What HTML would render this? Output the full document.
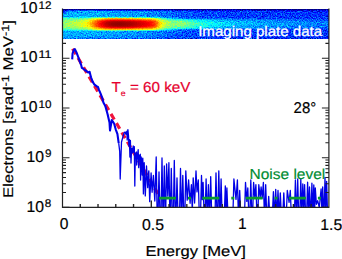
<!DOCTYPE html>
<html><head><meta charset="utf-8"><style>
html,body{margin:0;padding:0;background:#fff;overflow:hidden;}
svg{display:block;}
text{font-family:"Liberation Sans",sans-serif;text-rendering:geometricPrecision;}
</style></head><body>
<svg width="342" height="259" viewBox="0 0 342 259">
<defs>
<linearGradient id="bgG" gradientUnits="userSpaceOnUse" x1="62.5" y1="0" x2="328.9" y2="0"><stop offset="0.0000" stop-color="#4c4c4c" stop-opacity="1.000"/><stop offset="0.1408" stop-color="#4a4a4a" stop-opacity="1.000"/><stop offset="0.2909" stop-color="#444444" stop-opacity="1.000"/><stop offset="0.4411" stop-color="#363636" stop-opacity="1.000"/><stop offset="0.5912" stop-color="#2f2f2f" stop-opacity="1.000"/><stop offset="0.7414" stop-color="#2d2d2d" stop-opacity="1.000"/><stop offset="1.0004" stop-color="#2a2a2a" stop-opacity="1.000"/></linearGradient>
<linearGradient id="bandG" gradientUnits="userSpaceOnUse" x1="62.5" y1="0" x2="328.9" y2="0"><stop offset="0.0000" stop-color="#858585" stop-opacity="1.000"/><stop offset="0.0282" stop-color="#8a8a8a" stop-opacity="1.000"/><stop offset="0.0657" stop-color="#949494" stop-opacity="1.000"/><stop offset="0.0882" stop-color="#9e9e9e" stop-opacity="1.000"/><stop offset="0.1032" stop-color="#adadad" stop-opacity="1.000"/><stop offset="0.1220" stop-color="#c7c7c7" stop-opacity="1.000"/><stop offset="0.1408" stop-color="#dedede" stop-opacity="1.000"/><stop offset="0.1633" stop-color="#f0f0f0" stop-opacity="1.000"/><stop offset="0.1858" stop-color="#fafafa" stop-opacity="1.000"/><stop offset="0.2158" stop-color="#fcfcfc" stop-opacity="1.000"/><stop offset="0.2534" stop-color="#f7f7f7" stop-opacity="1.000"/><stop offset="0.2909" stop-color="#ededed" stop-opacity="1.000"/><stop offset="0.3285" stop-color="#e0e0e0" stop-opacity="1.000"/><stop offset="0.3472" stop-color="#d2d2d2" stop-opacity="1.000"/><stop offset="0.3547" stop-color="#cccccc" stop-opacity="0.926"/><stop offset="0.3773" stop-color="#b2b2b2" stop-opacity="0.704"/><stop offset="0.4035" stop-color="#9e9e9e" stop-opacity="0.444"/><stop offset="0.4411" stop-color="#8a8a8a" stop-opacity="0.074"/><stop offset="0.4486" stop-color="#868686" stop-opacity="0.000"/><stop offset="0.4786" stop-color="#787878" stop-opacity="0.000"/><stop offset="0.5161" stop-color="#6b6b6b" stop-opacity="0.000"/><stop offset="0.5724" stop-color="#5c5c5c" stop-opacity="0.000"/><stop offset="0.6475" stop-color="#505050" stop-opacity="0.000"/><stop offset="0.7414" stop-color="#4a4a4a" stop-opacity="0.000"/><stop offset="0.8915" stop-color="#424242" stop-opacity="0.000"/><stop offset="1.0004" stop-color="#3d3d3d" stop-opacity="0.000"/></linearGradient>
<linearGradient id="bandH" gradientUnits="userSpaceOnUse" x1="62.5" y1="0" x2="328.9" y2="0"><stop offset="0.0000" stop-color="#858585" stop-opacity="0.000"/><stop offset="0.0282" stop-color="#8a8a8a" stop-opacity="0.000"/><stop offset="0.0657" stop-color="#949494" stop-opacity="0.000"/><stop offset="0.0882" stop-color="#9e9e9e" stop-opacity="0.000"/><stop offset="0.1032" stop-color="#adadad" stop-opacity="0.000"/><stop offset="0.1220" stop-color="#c7c7c7" stop-opacity="0.000"/><stop offset="0.1408" stop-color="#dedede" stop-opacity="0.000"/><stop offset="0.1633" stop-color="#f0f0f0" stop-opacity="0.000"/><stop offset="0.1858" stop-color="#fafafa" stop-opacity="0.000"/><stop offset="0.2158" stop-color="#fcfcfc" stop-opacity="0.000"/><stop offset="0.2534" stop-color="#f7f7f7" stop-opacity="0.000"/><stop offset="0.2909" stop-color="#ededed" stop-opacity="0.000"/><stop offset="0.3285" stop-color="#e0e0e0" stop-opacity="0.000"/><stop offset="0.3472" stop-color="#d2d2d2" stop-opacity="0.000"/><stop offset="0.3547" stop-color="#cccccc" stop-opacity="0.074"/><stop offset="0.3773" stop-color="#b2b2b2" stop-opacity="0.296"/><stop offset="0.4035" stop-color="#9e9e9e" stop-opacity="0.556"/><stop offset="0.4411" stop-color="#8a8a8a" stop-opacity="0.926"/><stop offset="0.4486" stop-color="#868686" stop-opacity="1.000"/><stop offset="0.4786" stop-color="#787878" stop-opacity="1.000"/><stop offset="0.5161" stop-color="#6b6b6b" stop-opacity="1.000"/><stop offset="0.5724" stop-color="#5c5c5c" stop-opacity="1.000"/><stop offset="0.6475" stop-color="#505050" stop-opacity="1.000"/><stop offset="0.7414" stop-color="#4a4a4a" stop-opacity="1.000"/><stop offset="0.8915" stop-color="#424242" stop-opacity="1.000"/><stop offset="1.0004" stop-color="#3d3d3d" stop-opacity="1.000"/></linearGradient>
<linearGradient id="vP" gradientUnits="userSpaceOnUse" x1="0" y1="9.0" x2="0" y2="38.6"><stop offset="0.0000" stop-color="#fff" stop-opacity="0"/><stop offset="0.2500" stop-color="#fff" stop-opacity="0"/><stop offset="0.2703" stop-color="#fff" stop-opacity="0.08"/><stop offset="0.2872" stop-color="#fff" stop-opacity="0.26"/><stop offset="0.3041" stop-color="#fff" stop-opacity="0.48"/><stop offset="0.3277" stop-color="#fff" stop-opacity="0.63"/><stop offset="0.3480" stop-color="#fff" stop-opacity="0.71"/><stop offset="0.3682" stop-color="#fff" stop-opacity="0.79"/><stop offset="0.3953" stop-color="#fff" stop-opacity="0.89"/><stop offset="0.4257" stop-color="#fff" stop-opacity="0.96"/><stop offset="0.4662" stop-color="#fff" stop-opacity="0.99"/><stop offset="0.5068" stop-color="#fff" stop-opacity="1"/><stop offset="0.5473" stop-color="#fff" stop-opacity="0.99"/><stop offset="0.5878" stop-color="#fff" stop-opacity="0.96"/><stop offset="0.6182" stop-color="#fff" stop-opacity="0.89"/><stop offset="0.6453" stop-color="#fff" stop-opacity="0.79"/><stop offset="0.6655" stop-color="#fff" stop-opacity="0.71"/><stop offset="0.6858" stop-color="#fff" stop-opacity="0.63"/><stop offset="0.7095" stop-color="#fff" stop-opacity="0.48"/><stop offset="0.7264" stop-color="#fff" stop-opacity="0.26"/><stop offset="0.7432" stop-color="#fff" stop-opacity="0.08"/><stop offset="0.7635" stop-color="#fff" stop-opacity="0"/><stop offset="1.0000" stop-color="#fff" stop-opacity="0"/></linearGradient>
<linearGradient id="vQ" gradientUnits="userSpaceOnUse" x1="0" y1="9.0" x2="0" y2="38.6"><stop offset="0.0000" stop-color="#fff" stop-opacity="0"/><stop offset="0.3014" stop-color="#fff" stop-opacity="0"/><stop offset="0.3176" stop-color="#fff" stop-opacity="0.08"/><stop offset="0.3311" stop-color="#fff" stop-opacity="0.26"/><stop offset="0.3446" stop-color="#fff" stop-opacity="0.48"/><stop offset="0.3635" stop-color="#fff" stop-opacity="0.63"/><stop offset="0.3797" stop-color="#fff" stop-opacity="0.71"/><stop offset="0.3959" stop-color="#fff" stop-opacity="0.79"/><stop offset="0.4176" stop-color="#fff" stop-opacity="0.89"/><stop offset="0.4419" stop-color="#fff" stop-opacity="0.96"/><stop offset="0.4743" stop-color="#fff" stop-opacity="0.99"/><stop offset="0.5068" stop-color="#fff" stop-opacity="1"/><stop offset="0.5392" stop-color="#fff" stop-opacity="0.99"/><stop offset="0.5716" stop-color="#fff" stop-opacity="0.96"/><stop offset="0.5959" stop-color="#fff" stop-opacity="0.89"/><stop offset="0.6176" stop-color="#fff" stop-opacity="0.79"/><stop offset="0.6338" stop-color="#fff" stop-opacity="0.71"/><stop offset="0.6500" stop-color="#fff" stop-opacity="0.63"/><stop offset="0.6689" stop-color="#fff" stop-opacity="0.48"/><stop offset="0.6824" stop-color="#fff" stop-opacity="0.26"/><stop offset="0.6959" stop-color="#fff" stop-opacity="0.08"/><stop offset="0.7122" stop-color="#fff" stop-opacity="0"/><stop offset="1.0000" stop-color="#fff" stop-opacity="0"/></linearGradient>
<linearGradient id="vG" gradientUnits="userSpaceOnUse" x1="0" y1="9.0" x2="0" y2="38.6"><stop offset="0" stop-color="#000" stop-opacity="0.35"/><stop offset=".05" stop-color="#000" stop-opacity=".12"/><stop offset=".09" stop-color="#000" stop-opacity="0"/><stop offset=".85" stop-color="#000" stop-opacity="0"/><stop offset="1" stop-color="#000" stop-opacity=".1"/></linearGradient>
<radialGradient id="cG" gradientUnits="userSpaceOnUse" cx="62.5" cy="9.0" r="6"><stop offset="0" stop-color="#000" stop-opacity=".9"/><stop offset=".5" stop-color="#000" stop-opacity=".5"/><stop offset="1" stop-color="#000" stop-opacity="0"/></radialGradient>
<mask id="bm" maskUnits="userSpaceOnUse" x="62.5" y="9.0" width="266.4" height="29.6" style="mask-type:alpha"><rect x="62.5" y="9.0" width="266.4" height="29.6" fill="url(#vP)"/></mask>
<mask id="bn" maskUnits="userSpaceOnUse" x="62.5" y="9.0" width="266.4" height="29.6" style="mask-type:alpha"><rect x="62.5" y="9.0" width="266.4" height="29.6" fill="url(#vQ)"/></mask>
<filter id="jet" filterUnits="userSpaceOnUse" x="62.5" y="9.0" width="266.4" height="29.6" color-interpolation-filters="sRGB">
<feTurbulence type="fractalNoise" baseFrequency="0.8" numOctaves="2" seed="7" result="n"/>
<feColorMatrix in="n" type="matrix" values="1 0 0 0 0 1 0 0 0 0 1 0 0 0 0 0 0 0 0 1" result="ng"/>
<feComposite in="SourceGraphic" in2="ng" operator="arithmetic" k1="-0.5" k2="1.25" k3="0.5" k4="-0.25" result="s"/>
<feComponentTransfer in="s">
<feFuncR type="table" tableValues="0 0 0 0 .5 1 1 1 .5"/>
<feFuncG type="table" tableValues="0 0 .5 1 1 1 .5 0 0"/>
<feFuncB type="table" tableValues=".5 1 1 1 .5 0 0 0 0"/>
<feFuncA type="linear" slope="0" intercept="1"/>
</feComponentTransfer>
</filter>
</defs>
<g filter="url(#jet)">
<rect x="62.5" y="9.0" width="266.4" height="29.6" fill="url(#bgG)"/>
<rect x="62.5" y="9.0" width="266.4" height="29.6" fill="url(#vG)"/>
<rect x="62.5" y="9.0" width="266.4" height="29.6" fill="url(#bandG)" mask="url(#bm)"/>
<rect x="62.5" y="9.0" width="266.4" height="29.6" fill="url(#bandH)" mask="url(#bn)"/>
<rect x="62.5" y="9.0" width="266.4" height="1.3" fill="#000"/>
<rect x="62.5" y="9.0" width="8" height="8" fill="url(#cG)"/>
</g>
<clipPath id="pc"><rect x="62.5" y="38.6" width="266.4" height="168.8"/></clipPath>
<g clip-path="url(#pc)"><path d="M72.6,48.7 L158.5,194.7" stroke="#f0143c" stroke-width="3.2" stroke-dasharray="6.5 4.3" fill="none"/>
<path d="M72.2,59.4 L72.6,53.3 L73.9,49.9 L74.9,49.1 L76.5,52.5 L78,56.3 L79.6,61 L81.1,64.8 L81.9,67.9 L83.4,68.7 L85,70.2 L86.5,71 L88.1,72.5 L89.6,71.8 L90.4,74.9 L91.1,77.5 L92.6,81.6 L94.5,84.7 L96.5,86.2 L98,87 L99.1,90.1 L100.7,93.9 L102.2,97.8 L103.4,102.4 L105.3,106 L107.6,114.3 L109.5,122.4 L110,130.5 L111.8,120 L114.1,123.5 L115.7,129.3 L117.4,133.9 L118.7,143.2" fill="none" stroke="#0000e6" stroke-width="2.1" stroke-linejoin="round"/>
<path d="M118.7,143.2 L119.7,151.3 L120.2,179 L121.5,142 L123.4,135.1 L124.2,132.8 L125.1,131.9 L125.9,134.3 L126.9,131.2 L127.2,140 L127.9,129.6 L128.5,135.8 L128.9,146 L129.4,139.7 L129.9,157 L130.4,140.4 L131,163 L131.6,148.1 L132.5,152.8 L133.2,146 L133.6,152 L134.3,146.6 L134.8,186 L135.3,154.3 L136.4,152 L136.7,165 L137.2,157.4 L138.2,149.7 L138.7,167.7 L139.2,155.9 L140.3,154.3 L140.6,180 L141.1,157 L141.8,160.5 L142.2,175 L142.8,158.2 L143.4,193.9 L144.2,162.7 L145.3,195.9 L146.5,166 L147.7,187.6 L148.8,170.8 L149.7,201.7 L151.1,173 L152.1,192.3 L153.4,175.5 L154.8,201.0 L156.2,157 L157.1,212 L158.1,212 L159,172 L159.9,212 L161.1,212 L162,158 L162.9,212 L163.4,212 L164.3,166 L165.2,212 L165.7,212 L166.6,163.9 L167.8,196.2 L168.9,162.7 L169.8,212 L170.4,212 L171.3,168.5 L172.2,212 L173.4,212 L174.3,160.4 L175.2,212 L176.1,212 L177,177.8 L177.9,212 L179.6,212 L180.5,168.5 L181.4,212 L181.9,212 L182.8,175.5 L183.7,212 L184.9,212 L185.8,170.8 L187.2,200.1 L188.6,180 L190.1,203.3 L191.4,184.7 L192.3,212 L192.3,212 L193.2,177.8 L194.6,203.0 L196,170.8 L197.0,191.9 L198.3,180 L199.2,212 L200.6,212 L201.5,175.5 L202.3,199.7 L203.1,182.4 L204.0,212 L205.2,212 L206.1,179 L207.0,212 L207.5,212 L208.4,184.7 L209.3,212 L209.8,212 L210.7,176.6 L211.6,212 L215.1,212 L216,173 L216.9,212 L217.9,212 L218.8,170.8 L219.7,212 L220.2,212 L221.1,179 L222.0,212 L224.4,212 L225.3,185.9 L226.1,212 L226.1,212 L226.9,188 L227.8,212 L233.0,212 L233.9,179 L236.0,199.4 L237.4,180 L238.3,212 L238.8,212 L239.7,190.5 L240.6,212 L244.6,212 L245.5,182.4 L246.8,201.4 L247.8,188 L248.7,212 L249.9,212 L250.8,180 L251.7,212 L252.7,212 L253.6,182.4 L254.8,197.4 L255.9,184.7 L256.8,212 L257.9,212 L258.8,184.7 L260.2,197.6 L261.1,187 L262.2,198.1 L263.4,182.4 L264.3,212 L264.8,212 L265.7,184.7 L266.6,212 L267.8,212 L268.7,196.3 L269.6,212 L272.5,212 L273.4,191.7 L274.3,212 L274.8,212 L275.7,189.4 L276.6,212 L277.1,212 L278,190.5 L278.9,212 L279.4,212 L280.3,192.8 L281.2,212 L282.9,212 L283.8,192.8 L284.7,212 L286.4,212 L287.3,190.5 L289.1,202.3 L290.3,190.5 L291.2,212 L294.5,212 L295.4,180 L296.3,212 L296.8,212 L297.7,178.9 L298.6,212 L299.9,212 L300.8,179.3 L301.7,212 L301.9,212 L302.8,184 L303.7,212 L303.7,212 L304.6,184.7 L305.5,212 L306.7,212 L307.6,182.2 L308.5,212 L308.6,212 L309.5,187 L310.4,212 L311.0,212 L311.9,183.2 L312.8,212 L312.9,212 L313.8,185 L314.6,212 L314.6,212 L315.3,188 L316.4,204.3 L317.7,200.6 L319.3,207.6 L321.1,189 L321.9,212 L321.9,212 L322.7,187 L323.6,212 L324.1,212 L325,177.4 L325.8,212 L325.8,212 L326.6,181.3 L327.5,212 L330,212" fill="none" stroke="#0000e6" stroke-width="1.3" stroke-linejoin="round"/>
<path d="M159,198.2 H328" stroke="#0a9a30" stroke-width="2.8" stroke-dasharray="17 12 3 11.3" fill="none"/>
</g>
<path d="M62.5,8.6 V207.4 H328.9 V8.6" fill="none" stroke="#222" stroke-width="1.2"/>
<path d="M62.5,207.40h7M328.9,207.40h-7M62.5,192.44h3.5M328.9,192.44h-3.5M62.5,183.69h3.5M328.9,183.69h-3.5M62.5,177.48h3.5M328.9,177.48h-3.5M62.5,172.66h3.5M328.9,172.66h-3.5M62.5,168.73h3.5M328.9,168.73h-3.5M62.5,165.40h3.5M328.9,165.40h-3.5M62.5,162.52h3.5M328.9,162.52h-3.5M62.5,159.97h3.5M328.9,159.97h-3.5M62.5,157.70h7M328.9,157.70h-7M62.5,142.74h3.5M328.9,142.74h-3.5M62.5,133.99h3.5M328.9,133.99h-3.5M62.5,127.78h3.5M328.9,127.78h-3.5M62.5,122.96h3.5M328.9,122.96h-3.5M62.5,119.03h3.5M328.9,119.03h-3.5M62.5,115.70h3.5M328.9,115.70h-3.5M62.5,112.82h3.5M328.9,112.82h-3.5M62.5,110.27h3.5M328.9,110.27h-3.5M62.5,108.00h7M328.9,108.00h-7M62.5,93.04h3.5M328.9,93.04h-3.5M62.5,84.29h3.5M328.9,84.29h-3.5M62.5,78.08h3.5M328.9,78.08h-3.5M62.5,73.26h3.5M328.9,73.26h-3.5M62.5,69.33h3.5M328.9,69.33h-3.5M62.5,66.00h3.5M328.9,66.00h-3.5M62.5,63.12h3.5M328.9,63.12h-3.5M62.5,60.57h3.5M328.9,60.57h-3.5M62.5,58.30h7M328.9,58.30h-7M62.5,43.34h3.5M328.9,43.34h-3.5" stroke="#222" stroke-width="1.1" fill="none"/>
<path d="M80.26,207.4v-3.5M98.02,207.4v-3.5M115.78,207.4v-3.5M133.54,207.4v-3.5M151.30,207.4v-7M169.06,207.4v-3.5M186.82,207.4v-3.5M204.58,207.4v-3.5M222.34,207.4v-3.5M240.10,207.4v-7M257.86,207.4v-3.5M275.62,207.4v-3.5M293.38,207.4v-3.5M311.14,207.4v-3.5" stroke="#222" stroke-width="1.35" fill="none"/>
<text id="y12a" x="20" y="13" font-size="15.6" fill="#000" stroke="#000" stroke-width="0.18" textLength="17.5" lengthAdjust="spacingAndGlyphs">10</text>
<text id="y12b" x="38.5" y="8.6" font-size="11" fill="#000" stroke="#000" stroke-width="0.18" textLength="13" lengthAdjust="spacingAndGlyphs">12</text>
<text id="y11a" x="20" y="62.3" font-size="15.6" fill="#000" stroke="#000" stroke-width="0.18" textLength="17.5" lengthAdjust="spacingAndGlyphs">10</text>
<text id="y11b" x="38.5" y="58.2" font-size="11" fill="#000" stroke="#000" stroke-width="0.18" textLength="13" lengthAdjust="spacingAndGlyphs">11</text>
<text id="y10a" x="20" y="112.2" font-size="15.6" fill="#000" stroke="#000" stroke-width="0.18" textLength="17.5" lengthAdjust="spacingAndGlyphs">10</text>
<text id="y10b" x="38.5" y="107.9" font-size="11" fill="#000" stroke="#000" stroke-width="0.18" textLength="13" lengthAdjust="spacingAndGlyphs">10</text>
<text id="y9a" x="26.6" y="162" font-size="15.6" fill="#000" stroke="#000" stroke-width="0.18" textLength="17.5" lengthAdjust="spacingAndGlyphs">10</text>
<text id="y9b" x="45" y="157" font-size="11" fill="#000" stroke="#000" stroke-width="0.18" textLength="6.5" lengthAdjust="spacingAndGlyphs">9</text>
<text id="y8a" x="26.6" y="211.7" font-size="15.6" fill="#000" stroke="#000" stroke-width="0.18" textLength="17.5" lengthAdjust="spacingAndGlyphs">10</text>
<text id="y8b" x="44.7" y="207" font-size="11" fill="#000" stroke="#000" stroke-width="0.18" textLength="6.5" lengthAdjust="spacingAndGlyphs">8</text>
<text id="x0" x="59.8" y="229.4" font-size="15.6" fill="#000" stroke="#000" stroke-width="0.18">0</text>
<text id="x05" x="142" y="229.6" font-size="15.6" fill="#000" stroke="#000" stroke-width="0.18" textLength="22" lengthAdjust="spacingAndGlyphs">0.5</text>
<text id="x1" x="238" y="229.2" font-size="15.6" fill="#000" stroke="#000" stroke-width="0.18">1</text>
<text id="x15" x="320.3" y="229.5" font-size="15.6" fill="#000" stroke="#000" stroke-width="0.18" textLength="22" lengthAdjust="spacingAndGlyphs">1.5</text>
<text id="xl" x="145.5" y="255.7" font-size="14.5" fill="#000" stroke="#000" stroke-width="0.18" textLength="100.4" lengthAdjust="spacingAndGlyphs">Energy [MeV]</text>
<text id="yl" transform="translate(13,198) rotate(-90)" font-size="14" fill="#000" stroke="#000" stroke-width="0.18" textLength="178" lengthAdjust="spacingAndGlyphs">Electrons [srad<tspan font-size="10.7" dy="-4.5">-1</tspan><tspan dy="4.5"> MeV</tspan><tspan font-size="10.7" dy="-4.5">-1</tspan><tspan dy="4.5">]</tspan></text>
<text id="ip" x="198.2" y="36.2" font-size="14" fill="#fff" stroke="#fff" stroke-width="0.3" textLength="123.9" lengthAdjust="spacingAndGlyphs">Imaging plate data</text>
<text id="te" x="111.5" y="92.3" font-size="14.5" fill="#e6002e" stroke="#e6002e" stroke-width="0.18" textLength="79" lengthAdjust="spacingAndGlyphs">T<tspan font-size="8.3" dy="3.6">e</tspan><tspan dy="-3.6"> = 60 keV</tspan></text>
<text id="deg" x="293.6" y="112.6" font-size="15.6" fill="#000" stroke="#000" stroke-width="0.18" textLength="22.6" lengthAdjust="spacingAndGlyphs">28°</text>
<text id="nl" x="249.6" y="178.7" font-size="14.5" fill="#008c32" stroke="#008c32" stroke-width="0.18" textLength="75.6" lengthAdjust="spacingAndGlyphs">Noise level</text>
</svg>
</body></html>
